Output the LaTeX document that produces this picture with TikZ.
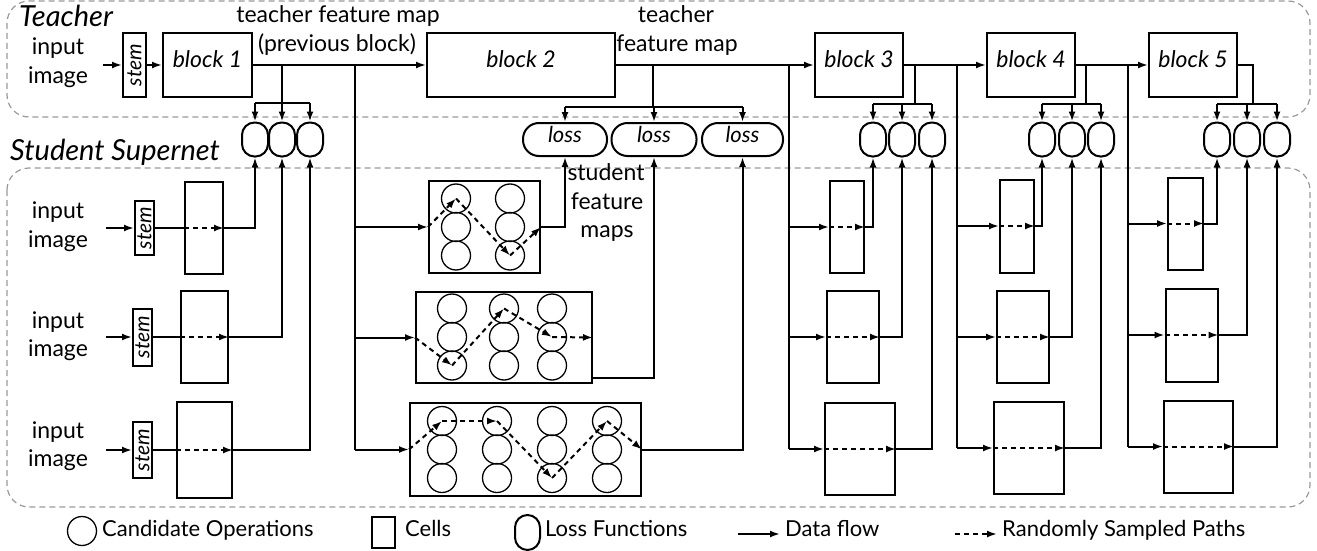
\documentclass[tikz,border=0pt]{standalone}
\usepackage{fontspec}
\setmainfont{Lato}
\usepackage{graphicx}
\usetikzlibrary{arrows.meta,calc}
\tikzset{
 line/.style={line width=2pt},
 arr/.style={line width=2pt, -{Latex[length=10pt,width=7pt]}},
 dpath/.style={line width=2pt, dash pattern=on 5pt off 4pt, -{Latex[length=10pt,width=7pt]}},
 region/.style={draw=gray!80, line width=1.2pt, dash pattern=on 6pt off 4pt, rounded corners=22pt},
 boxn/.style={draw, line width=2pt, inner sep=0pt},
 blk/.style={boxn, minimum width=89pt, minimum height=64pt, font=\fontsize{23}{27}\selectfont\itshape, text height=17pt, text depth=12pt},
 stembox/.style={boxn, minimum width=20pt, font=\fontsize{21}{24}\selectfont\itshape},
 op/.style={circle, draw, line width=1.3pt, minimum size=29pt, inner sep=0pt},
 lossov/.style={draw, line width=2pt, rounded corners=12.5pt, minimum width=26pt, minimum height=34pt, inner sep=0pt},
 losspill/.style={draw, line width=2pt, rounded corners=16pt, minimum height=33pt, inner sep=0pt, font=\fontsize{22}{26}\selectfont\itshape, text height=15pt, text depth=9pt},
 lbl/.style={anchor=base, font=\fontsize{23}{27}\selectfont, inner sep=0pt},
 head/.style={anchor=base west, font=\fontsize{29}{34}\selectfont\itshape, inner sep=0pt},
 leg/.style={anchor=base west, font=\fontsize{22}{26}\selectfont, inner sep=0pt},
}
\begin{document}
\begin{tikzpicture}[x=1pt,y=-1pt]
\useasboundingbox (0,0) rectangle (1317,551);
% regions
\draw[region] (7,1) rectangle (1310,117);
\draw[region] (7,168) rectangle (1310,507);
\node[head] (hteacher) at (19,27) {Teacher};
\node[head] (hstudent) at (10,160) {Student Supernet};

% ---------------- Teacher ----------------
\node[lbl] (tin1) at (58,55) {input};
\node[lbl] (tin2) at (58,83) {image};
\coordinate (tinA) at (103,65);
\node[stembox, minimum height=64pt, minimum width=23pt] (tstem) at (134.5,65) {\rotatebox{90}{stem}};
\node[blk] (tb1) at (207.5,65) {block 1};
\node[blk, minimum width=188pt] (tb2) at (521,65) {block 2};
\node[blk, minimum width=88pt] (tb3) at (859,65) {block 3};
\node[blk, minimum width=88pt] (tb4) at (1031,65) {block 4};
\node[blk, minimum width=88pt] (tb5) at (1193,65) {block 5};
\draw[arr] (tinA) -- (tstem.west);
\draw[arr] (tstem.east) -- (tb1.west);
\draw[arr] (tb1.east) -- (tb2.west);
\draw[arr] (tb2.east) -- (tb3.west);
\draw[arr] (tb3.east) -- (tb4.west);
\draw[arr] (tb4.east) -- (tb5.west);

\node[lbl] (tfm1) at (338,23) {teacher feature map};
\node[lbl] (tfm2) at (337,52) {(previous block)};
\node[lbl] (tfm3) at (676,23) {teacher};
\node[lbl] (tfm4) at (677,52) {feature map};
\node[lbl] (sfm1) at (606,180) {student};
\node[lbl] (sfm2) at (607,209) {feature};
\node[lbl] (sfm3) at (607,237) {maps};

% loss functions
\foreach \n/\x in {o11/255,o12/282,o13/310,o31/873,o32/902,o33/932,o41/1042,o42/1072,o43/1101,o51/1217,o52/1247,o53/1277}
  \node[lossov] (\n) at (\x,139.5) {};
\node[losspill, minimum width=84pt] (L1) at (565,139.5) {loss};
\node[losspill, minimum width=85pt] (L2) at (654,139.5) {loss};
\node[losspill, minimum width=81pt] (L3) at (742.5,139.5) {loss};

% branches teacher -> losses
\coordinate (j1) at (282,65);  \coordinate (k1) at (282,103);
\coordinate (j2) at (653,65);  \coordinate (k2) at (653,107);
\coordinate (j3) at (915,65);  \coordinate (k3) at (915,104);
\coordinate (j4) at (1086,65); \coordinate (k4) at (1086,104);
\coordinate (k5) at (1253,104);
\draw[line] (j1) -- (k1);
\draw[line] (j2) -- (k2);
\draw[line] (j3) -- (k3);
\draw[line] (j4) -- (k4);
\draw[line] (tb5.east) -| (k5);
\draw[line] (o11.north |- k1) -- (o13.north |- k1);
\draw[line] (L1.north |- k2) -- (L3.north |- k2);
\draw[line] (o31.north |- k3) -- (o33.north |- k3);
\draw[line] (o41.north |- k4) -- (o43.north |- k4);
\draw[line] (o51.north |- k5) -- (o53.north |- k5);
\foreach \o in {o11,o12,o13} \draw[arr] (\o.north |- k1) -- (\o.north);
\foreach \o in {L1,L2,L3} \draw[arr] (\o.north |- k2) -- (\o.north);
\foreach \o in {o31,o32,o33} \draw[arr] (\o.north |- k3) -- (\o.north);
\foreach \o in {o41,o42,o43} \draw[arr] (\o.north |- k4) -- (\o.north);
\foreach \o in {o51,o52,o53} \draw[arr] (\o.north |- k5) -- (\o.north);

% ---------------- Student ----------------
\node[lbl] (sin11) at (58,218) {input};
\node[lbl] (sin12) at (58,247) {image};
\node[lbl] (sin21) at (58,328) {input};
\node[lbl] (sin22) at (58,356) {image};
\node[lbl] (sin31) at (58,438) {input};
\node[lbl] (sin32) at (58,466) {image};
\node[stembox, minimum height=54pt, minimum width=19pt] (s1) at (144.5,228) {\rotatebox{90}{stem}};
\node[stembox, minimum height=57pt, minimum width=19pt] (s2) at (142.5,337) {\rotatebox{90}{stem}};
\node[stembox, minimum height=56pt, minimum width=19pt] (s3) at (142.5,450) {\rotatebox{90}{stem}};
\coordinate (si1) at (106,228);
\coordinate (si2) at (106,337);
\coordinate (si3) at (106,450);
\draw[arr] (si1) -- (s1.west);
\draw[arr] (si2) -- (s2.west);
\draw[arr] (si3) -- (s3.west);

% block 1 cells
\node[boxn, minimum width=38pt, minimum height=92pt] (c11) at (204,228) {};
\node[boxn, minimum width=47pt, minimum height=92pt] (c12) at (204.5,337) {};
\node[boxn, minimum width=55pt, minimum height=96pt] (c13) at (204.5,450) {};
\draw[line] (s1.east) -- (c11.west);
\draw[line] (s2.east) -- (c12.west);
\draw[line] (s3.east) -- (c13.west);
\draw[dpath] (c11.west) -- (c11.east);
\draw[dpath] (c12.west) -- (c12.east);
\draw[dpath] (c13.west) -- (c13.east);
\draw[arr] (c11.east) -| (o11.south);
\draw[arr] (c12.east) -| (o12.south);
\draw[arr] (c13.east) -| (o13.south);

% block 2 cells
\node[boxn, minimum width=111pt, minimum height=92pt] (c21) at (484.5,227) {};
\node[boxn, minimum width=176pt, minimum height=91pt] (c22) at (504,337.5) {};
\node[boxn, minimum width=231pt, minimum height=93pt] (c23) at (525.5,449.5) {};
\foreach \i/\x in {1/456,2/510} \foreach \j/\y in {1/198.5,2/227,3/255.5}
  \node[op] (c21-\i-\j) at (\x,\y) {};
\foreach \i/\x in {1/452,2/504,3/552} \foreach \j/\y in {1/308.5,2/337,3/365.5}
  \node[op] (c22-\i-\j) at (\x,\y) {};
\foreach \i/\x in {1/442,2/497,3/552,4/607} \foreach \j/\y in {1/421,2/449.5,3/478}
  \node[op] (c23-\i-\j) at (\x,\y) {};
\coordinate (v2t) at (355,65);
\draw[line] (v2t) -- (v2t |- c23.west);
\foreach \c in {c21,c22,c23} \draw[arr] (v2t |- \c.west) -- (\c.west);
\draw[dpath] (c21.west) -- (c21-1-1.center);
\draw[dpath] (c21-1-1.center) -- (c21-2-3.center);
\draw[dpath] (c21-2-3.center) -- (c21.east);
\draw[dpath] (c22.west) -- (c22-1-3.center);
\draw[dpath] (c22-1-3.center) -- (c22-2-1.center);
\draw[dpath] (c22-2-1.center) -- (c22-3-2.center);
\draw[dpath] (c22-3-2.center) -- (c22.east);
\draw[dpath] (c23.west) -- (c23-1-1.center);
\draw[dpath] (c23-1-1.center) -- (c23-2-1.center);
\draw[dpath] (c23-2-1.center) -- (c23-3-3.center);
\draw[dpath] (c23-3-3.center) -- (c23-4-1.center);
\draw[dpath] (c23-4-1.center) -- (c23.east);
\draw[arr] (c21.east) -| (L1.south);
\draw[arr] ([yshift=6pt]c22.south east) -| (L2.south);
\draw[arr] (c23.east) -| (L3.south);

% blocks 3-5 cells
\node[boxn, minimum width=34pt, minimum height=92pt] (c31) at (847,227) {};
\node[boxn, minimum width=52pt, minimum height=92pt] (c32) at (853,337) {};
\node[boxn, minimum width=70pt, minimum height=92pt] (c33) at (860,449) {};
\node[boxn, minimum width=34pt, minimum height=93pt] (c41) at (1017,226) {};
\node[boxn, minimum width=52pt, minimum height=92pt] (c42) at (1023,337) {};
\node[boxn, minimum width=70pt, minimum height=92pt] (c43) at (1029,448) {};
\node[boxn, minimum width=35pt, minimum height=92pt] (c51) at (1185.5,223.5) {};
\node[boxn, minimum width=52pt, minimum height=93pt] (c52) at (1191.5,335) {};
\node[boxn, minimum width=69pt, minimum height=92pt] (c53) at (1198.5,446.5) {};
\coordinate (v3t) at (789,65);
\coordinate (v4t) at (957,65);
\coordinate (v5t) at (1128,65);
\foreach \v/\b in {v3t/3,v4t/4,v5t/5}{
  \draw[line] (\v) -- (\v |- c\b3.west);
  \foreach \r in {1,2,3}{
    \draw[arr] (\v |- c\b\r.west) -- (c\b\r.west);
    \draw[dpath] (c\b\r.west) -- (c\b\r.east);
    \draw[arr] (c\b\r.east) -| (o\b\r.south);
  }
}

% ---------------- Legend ----------------
\node[op] (lg1) at (82,531) {};
\node[leg] (lg1t) at (102,536) {Candidate Operations};
\node[boxn, minimum width=23pt, minimum height=31pt] (lg2) at (383.5,532.5) {};
\node[leg] (lg2t) at (405,536) {Cells};
\node[lossov, minimum width=25pt, minimum height=35pt] (lg3) at (527.5,532.5) {};
\node[leg] (lg3t) at (545,536) {Loss Functions};
\coordinate (lg4a) at (738,534); \coordinate (lg4b) at (780,534);
\draw[arr] (lg4a) -- (lg4b);
\node[leg] (lg4t) at (785,536) {Data flow};
\coordinate (lg5a) at (955,534); \coordinate (lg5b) at (997,534);
\draw[dpath] (lg5a) -- (lg5b);
\node[leg] (lg5t) at (1002,536) {Randomly Sampled Paths};
\end{tikzpicture}
\end{document}
